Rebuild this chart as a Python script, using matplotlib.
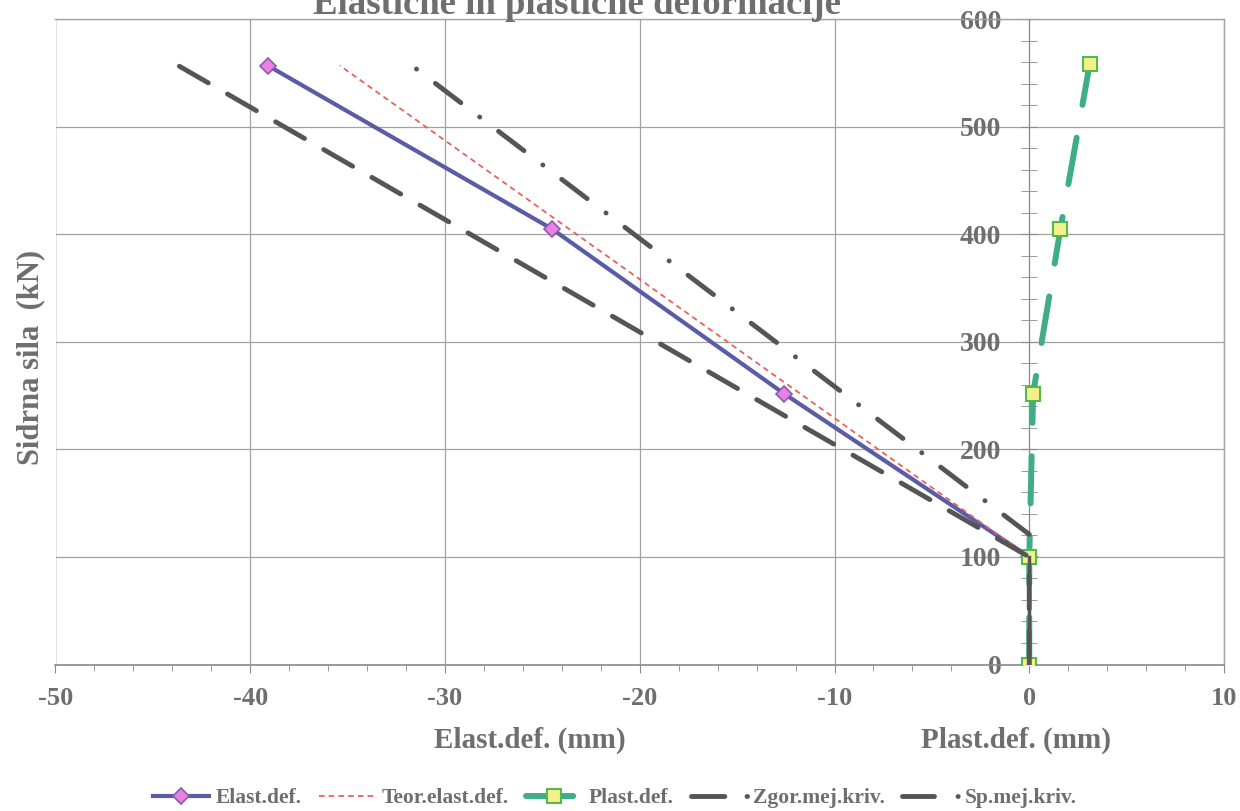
import numpy as np
import matplotlib.pyplot as plt
from matplotlib.ticker import MultipleLocator

plt.rcParams['font.family'] = ['Liberation Serif', 'DejaVu Serif']
plt.rcParams['font.weight'] = 'bold'
plt.rcParams['lines.scale_dashes'] = False
plt.rcParams['axes.unicode_minus'] = False

TXT = '#6e6e6e'
GRID = '#a2a2a2'

# anchor force (kN) vs. deformation (mm)
el_def = [0.0, -12.6, -24.5, -39.1]
el_load = [100, 252, 405, 557]

teor_def = [0.0, -35.4]
teor_load = [100, 557]

pl_def = [0.0, 0.0, 0.2, 1.6, 3.1]
pl_load = [0, 100, 252, 405, 558]

zgor_def = [0.0, 0.0, -43.7]
zgor_load = [0, 100, 557]

sp_def = [0.0, -31.7]
sp_load = [121, 557]

fig = plt.figure(figsize=(12.4, 8.11), dpi=100)
ax = fig.add_axes([55.5 / 1240, 1 - 664.5 / 811, (1224 - 55.5) / 1240, (664.5 - 19.3) / 811])

ax.set_xlim(-50, 10)
ax.set_ylim(0, 600)

ax.plot(el_def, el_load, color='#5b5ca8', lw=3, marker='D', ms=8,
        mfc='#ea80e4', mec='#8a5cb0', mew=1.2, label='Elast.def.', zorder=4)
ax.plot(teor_def, teor_load, color='#e9605a', lw=1.3, dashes=(4, 3),
        label='Teor.elast.def.', zorder=4)
ax.plot(pl_def, pl_load, color='#3fae88', lw=4.3, dashes=(34, 24),
        dash_capstyle='round', marker='s', ms=10, mfc='#f4f08a', mec='#55b84a',
        mew=1.5, label='Plast.def.', zorder=5)
ax.plot(zgor_def, zgor_load, color='#555555', lw=3.5, dashes=(24, 16),
        dash_capstyle='round', label='Zgor.mej.kriv.', zorder=6)
# the limit curves overlap on the initial unloaded leg
ax.plot(zgor_def[:2], zgor_load[:2], color='#555555', lw=2.5, zorder=6)
ax.plot(sp_def, sp_load, color='#555555', lw=3.5, dashes=(23, 17, 0.1, 17),
        dash_capstyle='round', label='Sp.mej.kriv.', zorder=6)

# axes: y axis sits at x = 0, the rest is a light frame
for s in ['top', 'right']:
    ax.spines[s].set_color(GRID)
    ax.spines[s].set_linewidth(1)
ax.spines['left'].set_position(('data', 0))
ax.spines['left'].set_color('#8a8a8a')
ax.spines['left'].set_zorder(3)
ax.spines['bottom'].set_color('#8a8a8a')
ax.spines['bottom'].set_linewidth(1.2)
ax.axvline(-50, color=GRID, lw=1, zorder=1)

ax.xaxis.set_major_locator(MultipleLocator(10))
ax.xaxis.set_minor_locator(MultipleLocator(2))
ax.yaxis.set_major_locator(MultipleLocator(100))
ax.yaxis.set_minor_locator(MultipleLocator(20))

ax.tick_params(axis='x', which='both', direction='out', colors='#8a8a8a',
               labelcolor=TXT, labelsize=19, pad=10)
ax.tick_params(axis='x', which='major', length=6)
ax.tick_params(axis='x', which='minor', length=4)
ax.tick_params(axis='y', which='both', direction='inout', colors='#8a8a8a',
               labelcolor=TXT, labelsize=20, pad=14)
ax.tick_params(axis='y', which='major', length=12)
ax.tick_params(axis='y', which='minor', length=12)

ax.grid(True, which='major', color=GRID, lw=0.9, zorder=0)
ax.set_axisbelow(True)

fig.text(577 / 1240, 1 - 14 / 811, 'Elastične in plastične deformacije',
         ha='center', va='baseline', fontsize=26.5, color=TXT)
fig.text(31 / 1240, 1 - 357 / 811, 'Sidrna sila  (kN)', rotation=90,
         ha='center', va='center', fontsize=22, color=TXT)
fig.text(530 / 1240, 1 - 740 / 811, 'Elast.def. (mm)', ha='center',
         va='center', fontsize=21, color=TXT)
fig.text(1016 / 1240, 1 - 740 / 811, 'Plast.def. (mm)', ha='center',
         va='center', fontsize=21, color=TXT)

leg = fig.legend(loc='center', bbox_to_anchor=(615 / 1240, 1 - 798 / 811),
                 ncol=5, frameon=False, fontsize=15.5, handlelength=2.6,
                 handletextpad=0.3, columnspacing=0.8)
for t in leg.get_texts():
    t.set_color(TXT)

fig.savefig('out.png', dpi=100)
